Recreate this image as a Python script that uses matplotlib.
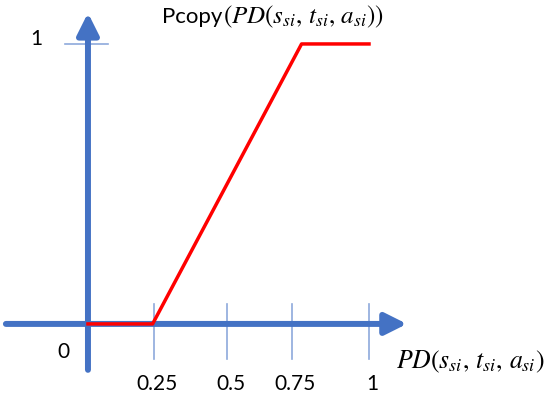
import matplotlib.pyplot as plt

# piecewise Pcopy curve
pd_x = [0.0, 0.23, 0.76, 1.0]
pcopy_y = [0.0, 0.0, 1.0, 1.0]

tick_pos = [0.235, 0.495, 0.725, 1.0]
tick_labels = ['0.25', '0.5', '0.75', '1']

blue = '#4472C4'
light_blue = '#8EA9DB'
red = '#FF0000'

plt.rcParams['font.family'] = ['Lato', 'DejaVu Sans']
plt.rcParams['mathtext.fontset'] = 'stix'

fig = plt.figure(figsize=(5.5, 3.97), dpi=100)
ax = fig.add_axes([0, 0, 1, 1])
ax.set_xlim(-0.313, 1.644)
ax.set_ylim(-0.261, 1.157)
ax.axis('off')

# thin tick marks
for t in tick_pos:
    ax.plot([t, t], [-0.125, 0.071], color=light_blue, lw=1.2, zorder=1)
ax.plot([-0.082, 0.071], [1.0, 1.0], color=light_blue, lw=1.2, zorder=1)

# axes with arrow heads
arrow = dict(arrowstyle='-|>,head_length=1.3,head_width=0.65', lw=4.3,
             color=blue, shrinkA=0, shrinkB=0)
ax.annotate('', xy=(1.135, 0), xytext=(-0.292, 0), arrowprops=arrow, zorder=2)
ax.annotate('', xy=(0, 1.111), xytext=(0, -0.164), arrowprops=arrow, zorder=2)

ax.plot(pd_x, pcopy_y, color=red, lw=2.5, zorder=3)

for t, lab in zip(tick_pos, tick_labels):
    ax.text(t + 0.012, -0.214, lab, ha='center', va='center', fontsize=15)
ax.text(-0.089, -0.1, '0', ha='center', va='center', fontsize=15)
ax.text(-0.183, 1.018, '1', ha='center', va='center', fontsize=15)

pd_label = r'$PD(s_{si},\,t_{si},\,a_{si})$'
ax.text(0.48, 1.075, 'Pcopy', ha='right', va='baseline', fontsize=16)
ax.text(0.48, 1.075, r'$(PD(s_{si},\,t_{si},\,a_{si}))$', ha='left',
        va='baseline', fontsize=18)
ax.text(1.359, -0.136, pd_label, ha='center', va='center', fontsize=18.5)

fig.savefig('out.png', dpi=100)
